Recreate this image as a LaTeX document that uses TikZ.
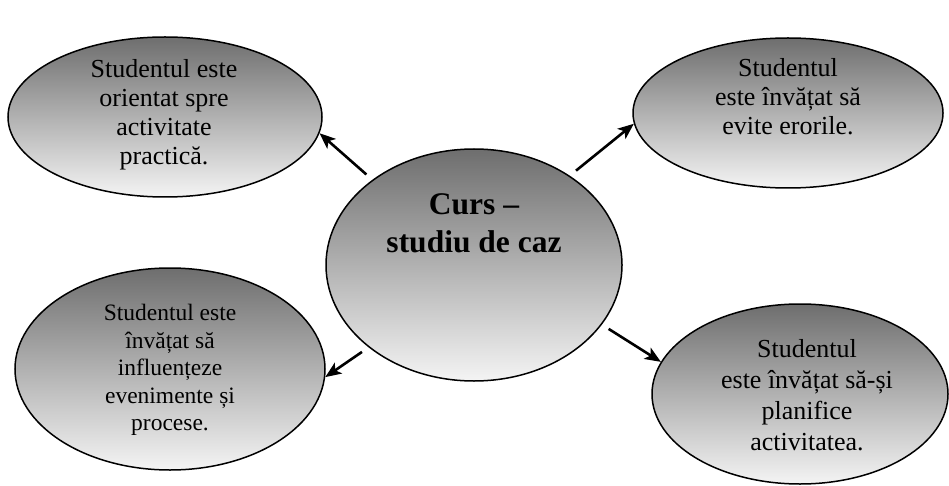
\documentclass[tikz,border=0pt]{standalone}
\usepackage{fontspec}
\setmainfont{Liberation Serif}
\usetikzlibrary{shapes.geometric, arrows.meta}
\definecolor{ovaltop}{HTML}{6E6E6E}
\definecolor{ovalmid}{HTML}{BDBDBD}
\definecolor{ovalbottom}{HTML}{F4F4F4}

\begin{document}
\begin{tikzpicture}[
    x = 1pt, y = -1pt,
    oval/.style={draw, line width=1.5pt, ellipse, inner sep=0pt, top color=ovaltop, middle color=ovalmid, bottom color=ovalbottom},
    ovaltext/.style={align=center, inner sep=0pt, font=\fontsize{26}{29}\selectfont},
    smalltext/.style={align=center, inner sep=0pt, font=\fontsize{23.5}{27.5}\selectfont},
    maintext/.style={align=center, inner sep=0pt, font=\fontsize{31.5}{38}\selectfont\bfseries},
    arrow/.style={-{Stealth[length=16pt, width=13pt, inset=4pt]}, line width=2.6pt, color=black, shorten <=8pt}
]
    \useasboundingbox (0, 0) rectangle (949, 486);

    % Curs - studiu de caz
    \node (curs) at (474, 265) [oval, minimum width=296pt, minimum height=232pt] {};
    \node (curstext) at (474, 223) [maintext] {Curs --\\studiu de caz};

    % Orientat spre activitate
    \node (orient) at (165, 117) [oval, minimum width=314pt, minimum height=160pt] {};
    \node (orienttext) at (164, 115) [ovaltext] {Studentul este\\orientat spre\\activitate\\practică.};

    % Evite erorile
    \node (erori) at (788, 113) [oval, minimum width=310pt, minimum height=150pt] {};
    \node (eroritext) at (788, 97) [ovaltext] {Studentul\\este învățat să\\evite erorile.};

    % Influenteze evenimente
    \node (influent) at (170, 369) [oval, minimum width=310pt, minimum height=202pt] {};
    \node (influenttext) at (170, 370) [smalltext] {Studentul este\\învățat să\\influențeze\\evenimente și\\procese.};

    % Planifice activitatea
    \node (planif) at (800, 394) [oval, minimum width=296pt, minimum height=180pt] {};
    \node (planiftext) at (807, 395) [ovaltext, font=\fontsize{26}{31}\selectfont] {Studentul\\este învățat să-și\\planifice\\activitatea.};

    % Arrows
    \draw[arrow] (curs.140) -- (orient.-6);
    \draw[arrow] (curs.43) -- (erori.184);
    \draw[arrow] (curs.218) -- (influent.-3);
    \draw[arrow] (curs.-25) -- (planif.167);
\end{tikzpicture}
\end{document}
